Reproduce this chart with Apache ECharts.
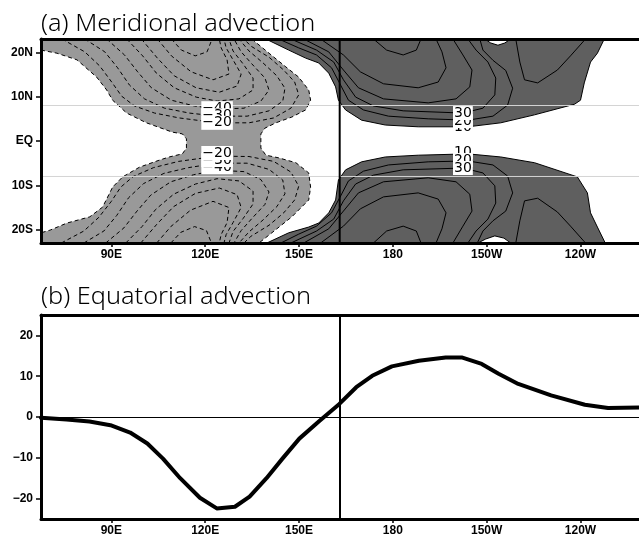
<!DOCTYPE html>
<html>
<head>
<meta charset="utf-8">
<script src="https://cdn.jsdelivr.net/npm/echarts@6/dist/echarts.min.js"></script>
<style>
html,body{margin:0;padding:0;background:#fff;}
#chart{width:639px;height:537px;}
</style>
</head>
<body>
<div id="chart"></div>
<script>
// ---- axes ----
const lonMin = 67.5, lonMax = 258.7;
const latMin = -23, latMax = 23;
const advMin = -25, advMax = 25;
const lonTicks = [90, 120, 150, 180, 210, 240];
const lonTickLabels = ['90E', '120E', '150E', '180', '150W', '120W'];
const latTicks = [-20, -10, 0, 10, 20];
const latTickLabels = ['20S', '10S', 'EQ', '10N', '20N'];
const advTicks = [-20, -10, 0, 10, 20];
const refLon = 163;
const refLats = [8, -8];

// ---- panel (a): -10 contour (edge of the negative area) [lon, lat] ----
const lightEdgeWest = [[67.5,20.5],[72.6,19.8],[79.0,18.3],[85.3,14.4],[88.5,11.5],[90.4,9.2],[94.9,6.3],[101.2,4.1],[109.5,2.0],[112.7,1.6],[114.0,0.5],[114.0,-1.6],[112.7,-2.9],[108.5,-3.6],[105.4,-4.3],[99.0,-5.9],[93.6,-8.1],[90.4,-10.4],[87.2,-14.9],[83.1,-17.1],[75.8,-18.5],[70.4,-20.1],[67.5,-20.7]];
const lightEdgeEast = [[134.9,23],[140.4,19.8],[145.8,16.7],[149.9,14.4],[153.1,11.5],[153.7,9.2],[152.1,7.0],[147.7,5.4],[142.6,4.1],[139.1,2.9],[137.8,1.6],[137.8,-1.6],[139.4,-3.2],[143.5,-3.8],[149.0,-4.9],[153.1,-7.2],[153.7,-10.4],[153.1,-13.3],[147.7,-17.1],[141.3,-20.7],[137.2,-23]];

// negative contours, north side
const neg20N = [[74.2,23],[81.5,20.1],[86.3,16.9],[90.1,13.3],[93.3,10.1],[97.4,7.9],[103.8,6.3],[111.7,5.2],[123.8,4.1],[134.0,4.1],[141.9,5.2],[147.4,7.4],[149.9,10.4],[148.6,13.3],[145.1,16.0],[140.4,18.9],[134.6,21.4],[132.4,23]];
const neg30N = [[81.5,23],[87.9,20.1],[92.0,16.5],[95.8,12.6],[100.6,9.5],[107.0,7.4],[114.9,6.3],[123.8,5.6],[133.4,5.6],[140.4,6.8],[144.8,9.0],[145.5,11.9],[142.9,14.7],[138.5,17.6],[134.0,20.3],[130.8,23]];
const neg40N = [[88.5,23],[94.2,19.4],[98.4,15.6],[102.8,12.0],[109.2,9.2],[116.5,7.9],[123.8,7.2],[132.4,7.4],[137.8,9.0],[140.4,11.5],[139.1,14.2],[134.9,17.4],[131.5,20.1],[129.2,23]];
const neg50N = [[94.9,23],[100.0,19.2],[104.4,15.3],[110.1,12.0],[117.1,9.9],[123.8,9.0],[130.8,9.5],[135.3,11.5],[135.3,14.2],[132.1,17.4],[128.9,20.3],[127.6,23]];
const neg60N = [[99.6,23],[104.7,18.7],[110.1,14.7],[117.1,12.0],[124.5,11.0],[130.2,12.4],[131.5,15.1],[128.9,18.3],[126.7,21.0],[126.0,23]];
const neg70N = [[104.7,23],[109.2,19.2],[115.5,15.6],[122.5,13.8],[127.6,15.1],[127.0,18.3],[125.1,21.0],[124.5,23]];
const neg80N = [[109.2,23],[112.4,20.5],[116.8,19.2],[120.6,20.1],[122.2,23]];

// negative contours, south side
const neg20S = [[74.0,-23],[81.2,-20.3],[86.0,-17.2],[90.0,-13.6],[93.0,-10.4],[97.0,-8.0],[103.5,-6.0],[111.5,-4.6],[123.8,-3.4],[134.0,-3.5],[141.9,-4.6],[147.4,-7.0],[149.9,-10.2],[148.6,-13.3],[145.1,-16.2],[140.4,-19.0],[134.6,-21.5],[132.4,-23]];
const neg30S = [[81.2,-23],[87.6,-20.3],[91.7,-16.8],[95.5,-12.8],[100.3,-9.6],[106.8,-7.3],[114.7,-6.0],[123.8,-5.0],[133.4,-5.0],[140.4,-6.4],[144.8,-8.8],[145.5,-11.9],[142.9,-14.8],[138.5,-17.8],[134.0,-20.5],[130.8,-23]];
const neg40S = [[88.2,-23],[94.0,-19.6],[98.2,-15.8],[102.6,-12.2],[109.0,-9.2],[116.3,-7.6],[123.8,-6.6],[132.4,-6.9],[137.8,-8.7],[140.4,-11.5],[139.1,-14.3],[134.9,-17.5],[131.5,-20.2],[129.2,-23]];
const neg50S = [[94.6,-23],[99.8,-19.3],[104.2,-15.4],[109.9,-12.0],[116.9,-9.7],[123.8,-8.5],[130.8,-9.0],[135.3,-11.3],[135.3,-14.2],[132.1,-17.5],[128.9,-20.4],[127.6,-23]];
const neg60S = [[99.4,-23],[104.5,-18.8],[109.9,-14.8],[116.9,-11.8],[124.5,-10.6],[130.2,-12.1],[131.5,-15.0],[128.9,-18.4],[126.7,-21.1],[126.0,-23]];
const neg70S = [[104.5,-23],[109.0,-19.3],[115.3,-15.6],[122.5,-13.6],[127.6,-15.0],[127.0,-18.4],[125.1,-21.1],[124.5,-23]];
const neg80S = [[109.0,-23],[112.2,-20.6],[116.6,-19.3],[120.4,-20.2],[122.0,-23]];

// ---- +10 contour (edge of the positive areas) ----
const darkEdgeN = [[139.4,23],[146.7,20.5],[152.1,18.7],[156.3,17.6],[159.5,15.3],[161.7,12.2],[162.6,9.2],[164.9,7.0],[170.0,4.7],[177.6,3.6],[188.1,3.2],[204.0,3.2],[214.5,4.1],[225.3,5.9],[238.1,8.3],[240.0,9.2],[241.2,13.1],[243.2,17.8],[245.4,19.8],[247.6,23]];
const darkNotchN = [[209.4,23],[211.3,22.1],[213.6,21.6],[215.8,22.1],[217.7,23]];
const darkEdgeS = [[139.7,-23],[146.7,-20.7],[153.1,-19.4],[156.3,-18.5],[159.5,-16.2],[161.7,-13.3],[162.6,-8.8],[164.9,-6.5],[170.0,-4.7],[177.6,-3.6],[188.1,-3.2],[204.0,-2.9],[214.5,-3.6],[225.3,-4.9],[239.0,-8.1],[242.2,-11.7],[243.2,-16.2],[245.4,-19.4],[247.9,-23]];
const darkNotchS = [[207.2,-23],[209.7,-22.1],[212.6,-21.4],[215.5,-21.9],[217.7,-23]];

// positive contours, north side
const pos20aN = [[143.5,23],[149.9,21.0],[155.6,19.4],[160.4,16.5],[163.3,12.6],[165.8,9.2],[170.6,7.0],[178.6,5.6],[191.3,5.0],[204.0,4.7],[212.0,5.6],[216.7,8.1],[218.3,11.9],[216.1,15.9],[212.0,18.2],[208.8,20.5],[207.8,23]];
const pos20bN = [[241.6,23],[236.8,19.2],[232.6,16.0],[226.3,13.1],[222.1,13.8],[220.6,17.8],[219.3,23]];
const pos30N = [[147.4,23],[155.6,20.5],[161.1,17.8],[164.2,13.8],[168.1,9.9],[173.8,7.9],[183.3,6.8],[202.4,6.3],[208.8,7.4],[212.6,10.4],[212.9,14.2],[210.4,17.8],[206.6,20.5],[204.0,23]];
const pos40N = [[151.5,23],[159.5,20.1],[164.2,16.0],[169.0,12.0],[177.0,9.5],[191.3,8.6],[200.2,9.5],[204.6,12.2],[205.3,16.0],[202.4,19.4],[199.2,23]];
const pos50N = [[156.9,23],[164.2,19.4],[169.6,15.6],[177.0,12.9],[188.1,12.0],[194.5,13.3],[197.0,16.5],[195.7,20.1],[193.8,23]];
const pos60N = [[173.8,23],[178.0,20.5],[183.3,19.4],[187.5,20.5],[189.0,23]];

// positive contours, south side
const pos20aS = [[144.2,-23],[149.9,-21.0],[155.6,-19.2],[160.4,-16.2],[163.3,-12.4],[165.8,-9.0],[170.6,-6.8],[178.6,-5.4],[191.3,-4.7],[204.0,-4.5],[212.0,-5.4],[216.7,-7.9],[218.3,-11.7],[216.1,-15.8],[212.0,-18.0],[208.8,-20.3],[207.0,-23]];
const pos20bS = [[241.6,-23],[236.8,-19.2],[232.6,-16.0],[226.3,-12.9],[222.1,-13.5],[220.6,-18.0],[219.3,-23]];
const pos30S = [[147.4,-23],[155.6,-20.3],[161.1,-17.6],[164.2,-13.5],[168.1,-9.7],[173.8,-7.7],[183.3,-6.5],[202.4,-6.1],[208.8,-7.2],[212.6,-10.1],[212.9,-14.0],[210.4,-17.6],[206.6,-20.3],[204.0,-23]];
const pos40S = [[151.5,-23],[159.5,-19.8],[164.2,-15.8],[169.0,-11.7],[177.0,-9.2],[191.3,-8.3],[200.2,-9.2],[204.6,-12.0],[205.3,-15.8],[202.4,-19.2],[199.2,-23]];
const pos50S = [[156.9,-23],[164.2,-19.2],[169.6,-15.3],[177.0,-12.6],[188.1,-11.7],[194.5,-13.1],[197.0,-16.2],[195.7,-19.8],[193.8,-23]];
const pos60S = [[173.8,-23],[178.0,-20.3],[183.3,-19.2],[187.5,-20.3],[189.0,-23]];

// contour labels (drawn in this order, each box over the previous one)
const labelTexts = ['−40', '−30', '−20', '−40', '−30', '−20', '10', '20', '30', '10', '20', '30'];
const labelLons  = [123.8, 123.8, 123.8, 123.8, 123.8, 123.8, 202.4, 202.4, 202.4, 202.4, 202.4, 202.4];
const labelLats  = [7.4, 5.8, 4.1, -5.9, -4.3, -2.7, 3.0, 4.5, 6.3, -2.5, -4.3, -6.1];

// ---- panel (b): equatorial advection ----
const advLon = [67.5, 75.7, 83.0, 89.7, 96.0, 101.5, 106.5, 112.0, 118.3, 123.7, 129.5, 134.2, 139.6, 144.7, 150.1, 156.5, 162.9, 168.3, 173.4, 179.7, 188.3, 196.9, 202.0, 208.4, 213.8, 220.1, 230.6, 241.4, 248.8, 258.7];
const advVal = [-0.2, -0.6, -1.1, -2.0, -3.8, -6.5, -10.2, -15.0, -19.8, -22.4, -22.0, -19.5, -15.0, -10.2, -5.3, -1.0, 3.2, 7.3, 10.1, 12.4, 13.8, 14.6, 14.6, 13.0, 10.6, 8.1, 5.3, 3.0, 2.2, 2.3];

// ---- build shapes ----
const LIGHT = '#999999', DARK = '#5f5f5f';
const lightFill = [[lonMin, latMax]].concat(lightEdgeWest, [[lonMin, latMin]], lightEdgeEast.slice().reverse());
const darkFillN = darkEdgeN.concat(darkNotchN.slice().reverse());
const darkFillS = darkEdgeS.concat(darkNotchS.slice().reverse());
const fills = [
  { pts: lightFill, color: LIGHT },
  { pts: darkFillN, color: DARK },
  { pts: darkFillS, color: DARK }
];
const dashedLines = [lightEdgeWest, lightEdgeEast, neg20N, neg30N, neg40N, neg50N, neg60N, neg70N, neg80N,
                     neg20S, neg30S, neg40S, neg50S, neg60S, neg70S, neg80S];
const solidLines = [darkEdgeN, darkNotchN, darkEdgeS, darkNotchS, pos20aN, pos20bN, pos30N, pos40N, pos50N, pos60N,
                    pos20aS, pos20bS, pos30S, pos40S, pos50S, pos60S];
const contours = dashedLines.map(p => ({ pts: p, dash: true })).concat(solidLines.map(p => ({ pts: p, dash: false })));

const tickFont = { color: '#000', fontFamily: 'Liberation Sans, Arial, sans-serif', fontWeight: 'bold', fontSize: 12 };
const minus = v => (v < 0 ? '−' + Math.abs(v) : String(v));
const titleFont = '300 23px "Noto Sans", "DejaVu Sans", sans-serif';

function lonAxis(grid, withLabels) {
  return {
    type: 'value', gridIndex: grid, min: lonMin, max: lonMax, position: withLabels ? 'bottom' : 'top', z: 10,
    axisLine: { show: true, onZero: false, lineStyle: { color: '#000', width: 3 } },
    axisTick: { show: withLabels, customValues: lonTicks, length: 4, lineStyle: { color: '#000', width: 1.5 } },
    axisLabel: { show: withLabels, customValues: lonTicks, margin: 6, ...tickFont,
                 formatter: v => lonTickLabels[lonTicks.indexOf(Math.round(v))] || '' },
    splitLine: { show: false }
  };
}

const option = {
  animation: false,
  backgroundColor: '#fff',
  grid: [
    { left: 41, top: 39, width: 601, height: 204 },
    { left: 41, top: 315, width: 601, height: 204 }
  ],
  xAxis: [lonAxis(0, true), lonAxis(0, false), lonAxis(1, true), lonAxis(1, false)],
  yAxis: [
    {
      type: 'value', gridIndex: 0, min: latMin, max: latMax, z: 10,
      axisLine: { show: true, onZero: false, lineStyle: { color: '#000', width: 3 } },
      axisTick: { show: true, customValues: latTicks, length: 5, lineStyle: { color: '#000', width: 1.5 } },
      axisLabel: { customValues: latTicks, margin: 8, ...tickFont,
                   formatter: v => latTickLabels[latTicks.indexOf(Math.round(v))] || '' },
      splitLine: { show: false }
    },
    {
      type: 'value', gridIndex: 1, min: advMin, max: advMax, z: 10,
      axisLine: { show: true, onZero: false, lineStyle: { color: '#000', width: 3 } },
      axisTick: { show: true, customValues: advTicks, length: 5, lineStyle: { color: '#000', width: 1.5 } },
      axisLabel: { customValues: advTicks, margin: 8, ...tickFont, formatter: v => minus(Math.round(v)) },
      splitLine: { show: false }
    }
  ],
  graphic: [
    { type: 'text', x: 41, y: 13, scaleX: 1.1, style: { text: '(a) Meridional advection', fill: '#000', font: titleFont } },
    { type: 'text', x: 41, y: 286, scaleX: 1.1, style: { text: '(b) Equatorial advection', fill: '#000', font: titleFont } }
  ],
  series: [
    // shaded areas
    {
      type: 'custom', xAxisIndex: 0, yAxisIndex: 0, silent: true, clip: true, z: 2,
      data: fills.map(f => f.pts[0]),
      renderItem: (params, api) => {
        const f = fills[params.dataIndex];
        return { type: 'polygon', shape: { points: f.pts.map(p => api.coord(p)) }, style: { fill: f.color } };
      }
    },
    // contour lines
    {
      type: 'custom', xAxisIndex: 0, yAxisIndex: 0, silent: true, clip: true, z: 3,
      data: contours.map(c => c.pts[0]),
      renderItem: (params, api) => {
        const c = contours[params.dataIndex];
        return {
          type: 'polyline', shape: { points: c.pts.map(p => api.coord(p)) },
          style: { stroke: '#000', lineWidth: 1, fill: null, lineDash: c.dash ? [4, 3] : null }
        };
      }
    },
    // reference latitudes and meridian
    {
      type: 'custom', xAxisIndex: 0, yAxisIndex: 0, silent: true, clip: true, z: 4,
      data: refLats.map(l => [lonMin, l]).concat([[refLon, latMin]]),
      renderItem: (params, api) => {
        if (params.dataIndex < refLats.length) {
          const l = refLats[params.dataIndex];
          const a = api.coord([lonMin, l]), b = api.coord([lonMax, l]);
          return { type: 'line', shape: { x1: a[0], y1: a[1], x2: b[0], y2: b[1] }, style: { stroke: '#d4d4d4', lineWidth: 1 } };
        }
        const a = api.coord([refLon, latMin]), b = api.coord([refLon, latMax]);
        return { type: 'line', shape: { x1: a[0], y1: a[1], x2: b[0], y2: b[1] }, style: { stroke: '#000', lineWidth: 2 } };
      }
    },
    // contour labels
    {
      type: 'custom', xAxisIndex: 0, yAxisIndex: 0, silent: true, z: 5,
      data: labelLons.map((lon, i) => [lon, labelLats[i]]),
      renderItem: (params, api) => {
        const i = params.dataIndex;
        const p = api.coord([labelLons[i], labelLats[i]]);
        return {
          type: 'text', x: p[0], y: p[1], z2: i,
          style: { text: labelTexts[i], fill: '#000', font: '14px "DejaVu Sans", sans-serif',
                   align: 'center', verticalAlign: 'middle', backgroundColor: '#fff', padding: [0, 1, 0, 1] }
        };
      }
    },
    // equatorial advection curve
    {
      type: 'line', xAxisIndex: 2, yAxisIndex: 1, z: 3,
      data: advLon.map((lon, i) => [lon, advVal[i]]),
      showSymbol: false, symbol: 'none', smooth: false,
      lineStyle: { color: '#000', width: 4, join: 'round', cap: 'round' },
      markLine: {
        silent: true, symbol: 'none', label: { show: false },
        data: [
          { yAxis: 0, lineStyle: { color: '#000', width: 1, type: 'solid' } },
          { xAxis: refLon, lineStyle: { color: '#000', width: 2, type: 'solid' } }
        ]
      }
    }
  ]
};

const chart = echarts.init(document.getElementById('chart'));
chart.setOption(option);
</script>
</body>
</html>
